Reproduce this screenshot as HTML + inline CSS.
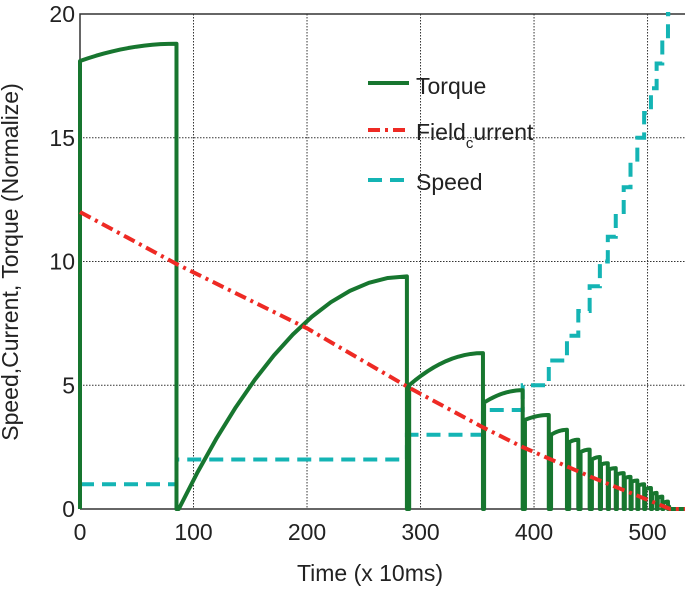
<!DOCTYPE html>
<html><head><meta charset="utf-8"><style>
html,body{margin:0;padding:0;background:#fff;}
svg{display:block;font-family:"Liberation Sans",Arial,sans-serif;}
</style></head><body>
<svg id="chart" width="685" height="590" viewBox="0 0 685 590">
<g id="grid"></g>
<g id="axes"></g>
<g id="series"></g>
<text x="18" y="262" transform="rotate(-90 18 262)" text-anchor="middle" font-size="23" fill="#222">Speed,Current, Torque (Normalize)</text>
<text x="370" y="581" text-anchor="middle" font-size="23" fill="#222">Time (x 10ms)</text>
<g>
 <g>
  <line x1="368" y1="83" x2="409" y2="83" stroke="#17762f" stroke-width="4"/>
  <text x="416" y="94" font-size="23" fill="#222">Torque</text></g>
 <g>
  <line x1="368" y1="130" x2="409" y2="130" stroke="#ee2a24" stroke-width="4" stroke-dasharray="12,5,3,5"/>
  <text x="416" y="140" font-size="23" fill="#222">Field<tspan font-size="15" dy="8">c</tspan><tspan dy="-8">urrent</tspan></text></g>
 <g>
  <line x1="368" y1="180" x2="409" y2="180" stroke="#14b4b4" stroke-width="4" stroke-dasharray="14,8"/>
  <text x="416" y="190" font-size="23" fill="#222">Speed</text></g>
</g>
</svg>
<script>
const xTicks=[0,100,200,300,400,500];
const yTicks=[0,5,10,15,20];
// torque teeth: start, end, start value, end value
const tStart=[0,87,290,356,392,415,431,441,451,459,466,473,480,486,492,498,504,509,514,519];
const tEnd=[85,288,355,390,413,429,439,449,458,465,472,479,485,491,497,503,508,513,518,520];
const tV0=[18.1,0,5.0,4.3,3.6,3.0,2.7,2.3,2.0,1.8,1.6,1.4,1.25,1.1,0.95,0.8,0.6,0.45,0.25,0.1];
const tV1=[18.8,9.4,6.3,4.8,3.8,3.2,2.8,2.4,2.1,1.85,1.65,1.45,1.3,1.15,1.0,0.85,0.65,0.5,0.3,0];
const fieldX=[0,85,200,290,355,390,450,520,533];
const fieldY=[12,9.9,7.3,4.9,3.3,2.5,1.3,0,0];
const speedStepX=[85,288,355,390,413,429,439,449,458,465,472,479,485,491,497,503,508,513,518];
const speedVals=[1,2,3,4,5,6,7,8,9,10,11,12,13,14,15,16,17,18,19,20];

const X0=80,X1=685,Y0=509,Y1=14,XMAX=533,YMAX=20;
const sx=v=>X0+v/XMAX*(X1-X0);
const sy=v=>Y0-v/YMAX*(Y0-Y1);
const NS='http://www.w3.org/2000/svg';
function mk(tag,attrs,parent){const e=document.createElementNS(NS,tag);for(const k in attrs)e.setAttribute(k,attrs[k]);parent.appendChild(e);return e;}
const grid=document.getElementById('grid'),axes=document.getElementById('axes'),series=document.getElementById('series');
xTicks.forEach(t=>{
 if(t>0){const g=mk('line',{x1:sx(t),x2:sx(t),y1:Y1,y2:Y0,stroke:'#333','stroke-width':1,'stroke-dasharray':'1.5,1.5'},grid);
 
 }
 const tx=mk('text',{x:sx(t),y:Y0+31,'text-anchor':'middle','font-size':23,fill:'#222'},axes);tx.textContent=t;
 
 
});
yTicks.forEach(t=>{
 if(t>0&&t<20){const g=mk('line',{x1:X0,x2:X1,y1:sy(t),y2:sy(t),stroke:'#333','stroke-width':1,'stroke-dasharray':'1.5,1.5'},grid);
 
 }
 const tx=mk('text',{x:X0-5,y:sy(t)+8,'text-anchor':'end','font-size':23,fill:'#222'},axes);tx.textContent=t;
 
 
});
const frame=mk('path',{d:`M${X0},${Y0}V${Y1}H${X1} M${X0},${Y0}H${X1}`,fill:'none',stroke:'#333','stroke-width':1.5},axes);



// speed
let d=`M${sx(0)},${sy(speedVals[0])}`;
speedStepX.forEach((x,i)=>{d+=` L${sx(x)},${sy(speedVals[i])} L${sx(x)},${sy(speedVals[i+1])}`;});
d+=` L${sx(520)},${sy(speedVals[speedVals.length-1])}`;
const sp=mk('path',{d,fill:'none',stroke:'#14b4b4','stroke-width':4,'stroke-dasharray':'14,8'},series);



// torque
let td='';
tStart.forEach((s,i)=>{
 const e=tEnd[i];
 td+=(i===0?`M${sx(s)},${sy(0)}`:` L${sx(s)},${sy(0)}`)+` L${sx(s)},${sy(tV0[i])}`;
 const n=12;
 for(let k=1;k<=n;k++){const f=k/n;const c=1-Math.pow(1-f,2);td+=` L${sx(s+(e-s)*f)},${sy(tV0[i]+(tV1[i]-tV0[i])*c)}`;}
 td+=` L${sx(e)},${sy(0)}`;
});
td+=` L${sx(XMAX)},${sy(0)}`;
const tq=mk('path',{d:td,fill:'none',stroke:'#17762f','stroke-width':4,'stroke-linejoin':'round'},series);



// field current
const fd=fieldX.map((x,i)=>(i?'L':'M')+sx(x)+','+sy(fieldY[i])).join(' ');
const fc=mk('path',{d:fd,fill:'none',stroke:'#ee2a24','stroke-width':4,'stroke-dasharray':'12,5,3,5'},series);


</script>
</body></html>
